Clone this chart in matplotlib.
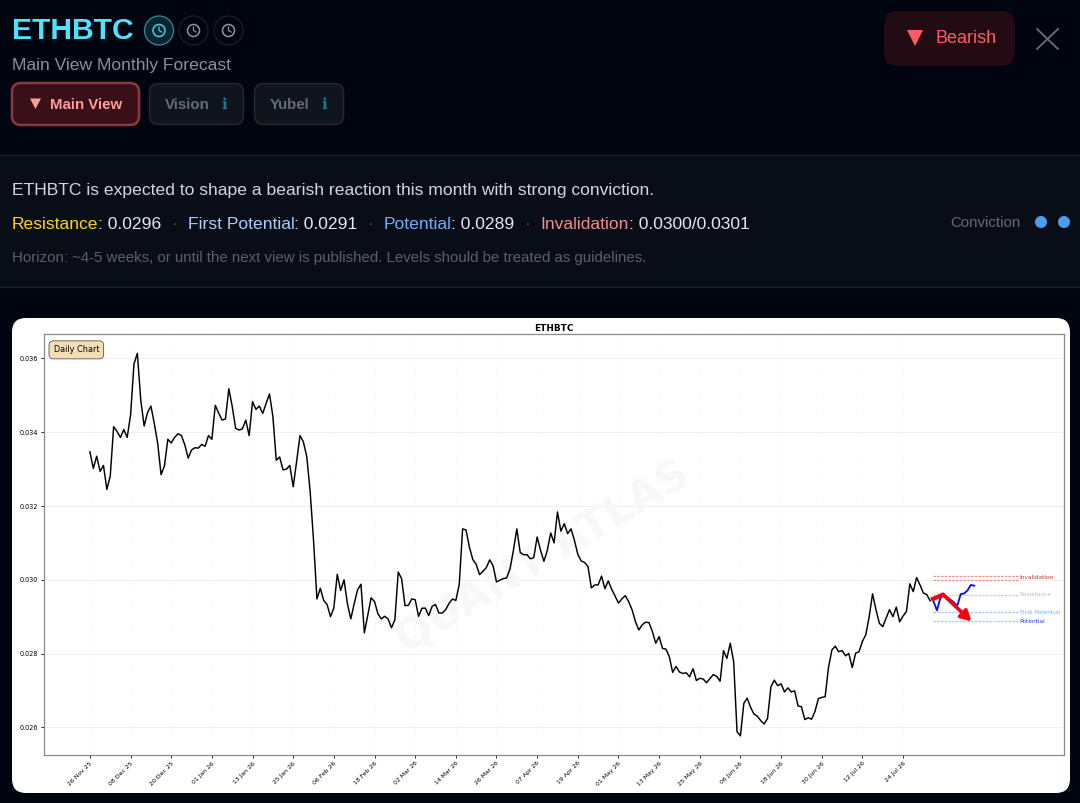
import numpy as np
import matplotlib
matplotlib.use("Agg")
import matplotlib.pyplot as plt
from matplotlib.patches import FancyBboxPatch, Circle, Polygon, Rectangle
from matplotlib.transforms import ScaledTranslation

# daily close, one value per day starting at 26 Nov 25
close_a = [.03347, .03302, .03335, .03294, .03310, .03245, .03281, .03415, .03402, .03386, .03407, .03386,
           .03447, .03585, .03614, .03488, .03417, .03453, .03471, .03424, .03370, .03285, .03309, .03381,
           .03371, .03386, .03396, .03391, .03366, .03330, .03352, .03358, .03357, .03367, .03362, .03391,
           .03381, .03473, .03452, .03433, .03436, .03518, .03470, .03411, .03406, .03409, .03433, .03391,
           .03483, .03462, .03471, .03451, .03478, .03504, .03443, .03324, .03333, .03298, .03300, .03310,
           .03252, .03320, .03391, .03374, .03334, .03240, .03107, .02948, .02977, .02944, .02933, .02900,
           .02924, .03015, .02971, .03000, .02935, .02894, .02935, .02973, .02988, .02856, .02903, .02951]
close_b = [.02941, .02908, .02894, .02901, .02894, .02870, .02891, .03021, .03003, .02930, .02931, .02948,
           .02946, .02901, .02923, .02923, .02903, .02928, .02933, .02910, .02910, .02919, .02936, .02948,
           .02944, .02987, .03138, .03135, .03089, .03055, .03042, .03014, .03023, .03033, .03054, .03038,
           .02994, .02999, .03003, .03005, .03030, .03080, .03138, .03074, .03068, .03068, .03057, .03060,
           .03116, .03080, .03050, .03080, .03127, .03100, .03184, .03132, .03152, .03125, .03138, .03107,
           .03069, .03051, .03047, .03036, .02978, .02986, .02986, .03010, .02976, .02997, .02974, .02956,
           .02937, .02948, .02957, .02941, .02919, .02887, .02864, .02878, .02885, .02884]
close_c = [.02860, .02828, .02846, .02814, .02812, .02792, .02749, .02765, .02750, .02746, .02748, .02737,
           .02759, .02727, .02733, .02731, .02721, .02732, .02743, .02738, .02725, .02808, .02787, .02828,
           .02778, .02588, .02577, .02665, .02679, .02654, .02636, .02630, .02618, .02609, .02624, .02710,
           .02728, .02713, .02718, .02696, .02707, .02696, .02699, .02658, .02656, .02621, .02626, .02622,
           .02643, .02678, .02681, .02683, .02763, .02810, .02820, .02805, .02808, .02794, .02800, .02762,
           .02801, .02805, .02833, .02851, .02900, .02962, .02919, .02882, .02873, .02896, .02919, .02900,
           .02926, .02886, .02902, .02914, .02989, .02968, .03006, .02986, .02964, .02960, .02943]
close = close_a + close_b + close_c

# blue path after the last close
path_days = [248.4, 249, 250, 251, 252, 253, 254, 255, 256, 257, 258, 259, 260, 261]
path_vals = [.02950, .02941, .02917, .02950, .02959, .02953, .02946, .02939, .02929, .02961, .02963, .02971, .02986, .02984]

# red forecast arrow
arrow_days = [248.8, 251.8, 260.2]
arrow_vals = [.02948, .02960, .02887]

# levels
level_names = ["Resistance", "First Potential", "Potential"]
level_vals = [.02960, .02912, .02887]
level_colors = ["#bdbdbd", "#6fb0f7", "#2040e0"]
level_lines = ["#cfcfcf", "#a9c6f7", "#a9c6f7"]
invalid_vals = [.03011, .03000]
level_start, level_end = 248.8, 273.8

tick_labels = ["26 Nov 25", "08 Dec 25", "20 Dec 25", "01 Jan 26", "13 Jan 26", "25 Jan 26", "06 Feb 26",
               "18 Feb 26", "02 Mar 26", "14 Mar 26", "26 Mar 26", "07 Apr 26", "19 Apr 26", "01 May 26",
               "13 May 26", "25 May 26", "06 Jun 26", "18 Jun 26", "30 Jun 26", "12 Jul 26", "24 Jul 26"]
y_ticks = [.026, .028, .030, .032, .034, .036]

W, H = 1080, 803
BG = "#01050f"
plt.rcParams["font.family"] = ["Liberation Sans", "DejaVu Sans"]

fig = plt.figure(figsize=(W / 100, (H + 0.01) / 100), dpi=100, facecolor=BG)
ui = fig.add_axes([0, 0, 1, 1])
ui.set_xlim(0, W)
ui.set_ylim(H, 0)
ui.axis("off")


def pt(px):
    return px * 0.72


def box(x0, y0, x1, y1, r, face, edge="none", lw=1.0):
    ui.add_patch(FancyBboxPatch((x0 + r, y0 + r), x1 - x0 - 2 * r, y1 - y0 - 2 * r,
                                boxstyle=f"round,pad={r},rounding_size={r}",
                                fc=face, ec=edge, lw=lw))


def clock(cx, cy, ring, hand, fill="none", lw=0.9):
    ui.add_patch(Circle((cx, cy), 14.5, fc=fill, ec=ring, lw=lw))
    ui.add_patch(Circle((cx, cy), 6, fc="none", ec=hand, lw=1.1))
    ui.plot([cx, cx, cx + 2.5], [cy - 3.5, cy, cy + 1.5], color=hand, lw=0.9)


def run_text(x, y, parts, px):
    # colored pieces written one after another on a line
    rend = fig.canvas.get_renderer()
    for s, c in parts:
        t = ui.text(x, y, s, color=c, fontsize=pt(px), va="center", ha="left")
        x += t.get_window_extent(rend).width
    return x


# header
ui.text(12, 31, "ETHBTC", color="#4fe3ff", fontsize=pt(30), fontweight="bold", va="center")
clock(159, 30.5, "#2b8ea3", "#46cfe6", fill="#0b2530")
clock(193.5, 30.5, "#1c2028", "#8f939c")
clock(228.5, 30.5, "#1c2028", "#8f939c")
ui.text(12, 65.5, "Main View Monthly Forecast", color="#8b8f9a", fontsize=pt(17.5), va="center")

box(12, 83, 139, 125, 9, "#3a0f18", "#8a3a42", 1.8)
ui.add_patch(Polygon([[30, 98.5], [41, 98.5], [35.5, 109]], fc="#ff9c9c"))
ui.text(50, 104.5, "Main View", color="#ff9c9c", fontsize=pt(15), fontweight="bold", va="center")
box(149.5, 83.5, 243.5, 124.5, 9, "#10141d", "#252932", 1)
ui.text(164.5, 104.5, "Vision", color="#666b78", fontsize=pt(15), fontweight="bold", va="center")
ui.text(224.5, 104.5, "ℹ", color="#0b8299", fontsize=pt(15), fontweight="bold", va="center", ha="center")
box(254.5, 83.5, 343.5, 124.5, 9, "#10141d", "#252932", 1)
ui.text(269.5, 104.5, "Yubel", color="#666b78", fontsize=pt(15), fontweight="bold", va="center")
ui.text(324.5, 104.5, "ℹ", color="#0b8299", fontsize=pt(15), fontweight="bold", va="center", ha="center")

box(884, 11, 1015, 66, 14, "#220b12")
ui.add_patch(Polygon([[907, 30], [923, 30], [915, 46]], fc="#ff5c62"))
ui.text(935.5, 38.5, "Bearish", color="#ff5c62", fontsize=pt(18), va="center")
ui.plot([1037, 1058], [29, 49], color="#6b7078", lw=1.3)
ui.plot([1058, 1037], [29, 49], color="#6b7078", lw=1.3)

# summary band
ui.add_patch(Rectangle((0, 155.5), W, 132, fc="#090d18", ec="none"))
ui.plot([0, W], [155.5, 155.5], color="#1a1e28", lw=1)
ui.plot([0, W], [287.5, 287.5], color="#1a1e28", lw=1)
ui.text(12, 190.5, "ETHBTC is expected to shape a bearish reaction this month with strong conviction.",
        color="#d3d6de", fontsize=pt(17.5), va="center")
white = "#e6e8ee"
sep = "#4a4e58"
run_text(11.5, 224.5, [("Resistance", "#ffd21f"), (": 0.0296", white)], 17.5)
ui.text(175, 224.5, "·", color=sep, fontsize=pt(17.5), va="center", ha="center")
run_text(187.5, 224.5, [("First Potential", "#a9cdfb"), (": 0.0291", white)], 17.5)
ui.text(371, 224.5, "·", color=sep, fontsize=pt(17.5), va="center", ha="center")
run_text(383.5, 224.5, [("Potential", "#6fb0f7"), (": 0.0289", white)], 17.5)
ui.text(528, 224.5, "·", color=sep, fontsize=pt(17.5), va="center", ha="center")
run_text(540.5, 224.5, [("Invalidation", "#f28b8b"), (": 0.0300/0.0301", white)], 17.5)
ui.text(12, 257.5, "Horizon: ~4-5 weeks, or until the next view is published. Levels should be treated as guidelines.",
        color="#5b5f6a", fontsize=pt(15), va="center")
ui.text(950, 222.5, "Conviction", color="#666a75", fontsize=pt(15), va="center")
ui.add_patch(Circle((1041, 222), 6, fc="#4a9df0", ec="none"))
ui.add_patch(Circle((1064, 222), 6, fc="#4a9df0", ec="none"))

# white card behind the chart
box(12, 318, 1070, 793, 14, "white")

ax_l, ax_r, ax_t, ax_b = 43.5, 1064, 334.5, 755
ax = fig.add_axes([ax_l / W, 1 - ax_b / H, (ax_r - ax_l) / W, (ax_b - ax_t) / H])
ax.set_facecolor("white")
ax.set_xlim(-13.7, 287.5)
ax.set_ylim(.02525, .03665)

days = np.arange(len(close))
ax.plot(days, close, color="black", lw=1.05, zorder=3)
ax.plot(path_days, path_vals, color="#0a0ae6", lw=1.3, zorder=4)

# red arrow: polyline with the head sitting on the last leg
ax.plot(arrow_days[:2], arrow_vals[:2], color="#f5000f", lw=3.0, zorder=5, solid_capstyle="round")
ax.annotate("", xy=(arrow_days[2], arrow_vals[2]), xytext=(arrow_days[1], arrow_vals[1]),
            arrowprops=dict(arrowstyle="-|>,head_length=0.55,head_width=0.3", color="#f5000f", lw=2.6,
                            mutation_scale=11, shrinkA=0, shrinkB=0), zorder=5)

for name, val, col, line_col in zip(level_names, level_vals, level_colors, level_lines):
    ax.plot([level_start, level_end], [val, val], color=line_col, lw=0.9, ls=(0, (2, 1)), zorder=2)
    ax.text(level_end + 0.6, val, name, color=col, fontsize=4.2, va="center", ha="left",
            family="DejaVu Sans")
for val in invalid_vals:
    ax.plot([level_start, level_end], [val, val], color="#eb8f8f", lw=0.9, ls=(0, (2, 1)), zorder=2)
ax.text(level_end + 0.6, np.mean(invalid_vals), "Invalidation", color="#c0392b", fontsize=4.2, va="center",
        ha="left", family="DejaVu Sans")

ax.set_xticks(np.arange(len(tick_labels)) * 12)
ax.set_xticklabels(tick_labels, rotation=45, ha="right", rotation_mode="anchor",
                   fontsize=4.4, family="DejaVu Sans")
shift = ScaledTranslation(-0.5 / 100, 0, fig.dpi_scale_trans)
for lab in ax.get_xticklabels():
    lab.set_transform(lab.get_transform() + shift)
ax.set_yticks(y_ticks)
ax.set_yticklabels([f"{v:.3f}" for v in y_ticks], fontsize=4.7, family="DejaVu Sans")
ax.tick_params(length=2, width=0.6, pad=2)
ax.grid(axis="y", color="#f0f0f0", lw=0.7)
ax.grid(axis="x", color="#f3f3f3", lw=0.6, ls=":")
ax.set_axisbelow(True)
for side in ax.spines.values():
    side.set_color("#8a8a8a")
    side.set_linewidth(0.9)

ax.set_title("ETHBTC", fontsize=6.4, fontweight="bold", family="DejaVu Sans", pad=2.5)
ax.text(0.0098, 0.9635, "Daily Chart", transform=ax.transAxes, fontsize=5.9, family="DejaVu Sans",
        va="center", ha="left",
        bbox=dict(boxstyle="round,pad=0.55", fc="#f5deb3", ec="#555555", lw=0.6), zorder=6)
ax.text(0.49, 0.47, "QUANT ATLAS", transform=ax.transAxes, fontsize=31, fontweight="bold",
        color="#f8f8f8", rotation=31, ha="center", va="center", family="DejaVu Sans", zorder=1)

fig.savefig("out.png", dpi=100, facecolor=BG)
